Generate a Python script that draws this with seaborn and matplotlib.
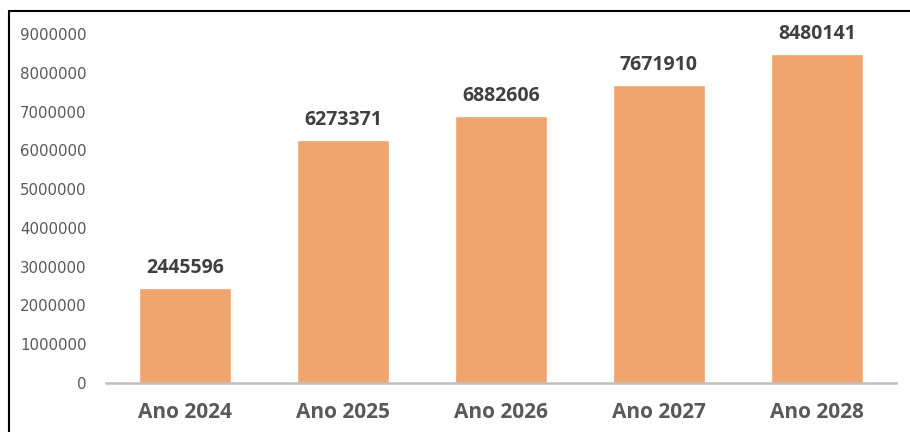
"""Bar chart of yearly totals, Ano 2024 to Ano 2028."""

import matplotlib

matplotlib.use("Agg")

import matplotlib.pyplot as plt
import pandas as pd
import seaborn as sns
from matplotlib.lines import Line2D

years = ["Ano 2024", "Ano 2025", "Ano 2026", "Ano 2027", "Ano 2028"]
values = [2445596, 6273371, 6882606, 7671910, 8480141]
y_ticks = [0, 1000000, 2000000, 3000000, 4000000, 5000000, 6000000, 7000000, 8000000, 9000000]

BAR_COLOR = "#F0A46E"

data = pd.DataFrame({"year": years, "value": values})

sns.set_theme(style="white")
plt.rcParams["font.family"] = ["DejaVu Sans"]

fig = plt.figure(figsize=(9.10, 4.32), dpi=100)
ax = fig.add_axes([0.1165, 0.1134, 0.868, 0.808])

sns.barplot(data=data, x="year", y="value", color=BAR_COLOR, saturation=1, width=0.58, ax=ax)

for idx, val in enumerate(values):
    ax.text(
        idx, val + 260000, str(val),
        ha="center", va="bottom", fontsize=14, fontweight="bold",
        color="#404040", family=["Open Sans", "DejaVu Sans"],
    )

ax.set_xlim(-0.5, 4.5)
ax.set_ylim(0, 9000000)
ax.set_yticks(y_ticks)
ax.set_yticklabels([str(t) for t in y_ticks], fontsize=10.8, color="#595959")
ax.set_xticks(range(len(years)))
ax.set_xticklabels(years, fontsize=15, fontweight="bold", color="#595959",
                   family=["Open Sans", "DejaVu Sans"])
ax.tick_params(axis="both", length=0)
ax.tick_params(axis="x", pad=14)
ax.tick_params(axis="y", pad=14)
ax.set_xlabel("")
ax.set_ylabel("")

for side in ("top", "right", "left"):
    ax.spines[side].set_visible(False)
ax.spines["bottom"].set_color("#BFBFBF")
ax.spines["bottom"].set_linewidth(1.8)

# outer frame (left and top edges visible in the reference)
fig.add_artist(Line2D([9 / 910, 9 / 910], [0, 1 - 11 / 432], color="black", lw=1.5))
fig.add_artist(Line2D([9 / 910, 1], [1 - 11 / 432, 1 - 11 / 432], color="black", lw=1.5))

fig.savefig("out.png", dpi=100)
plt.close(fig)
